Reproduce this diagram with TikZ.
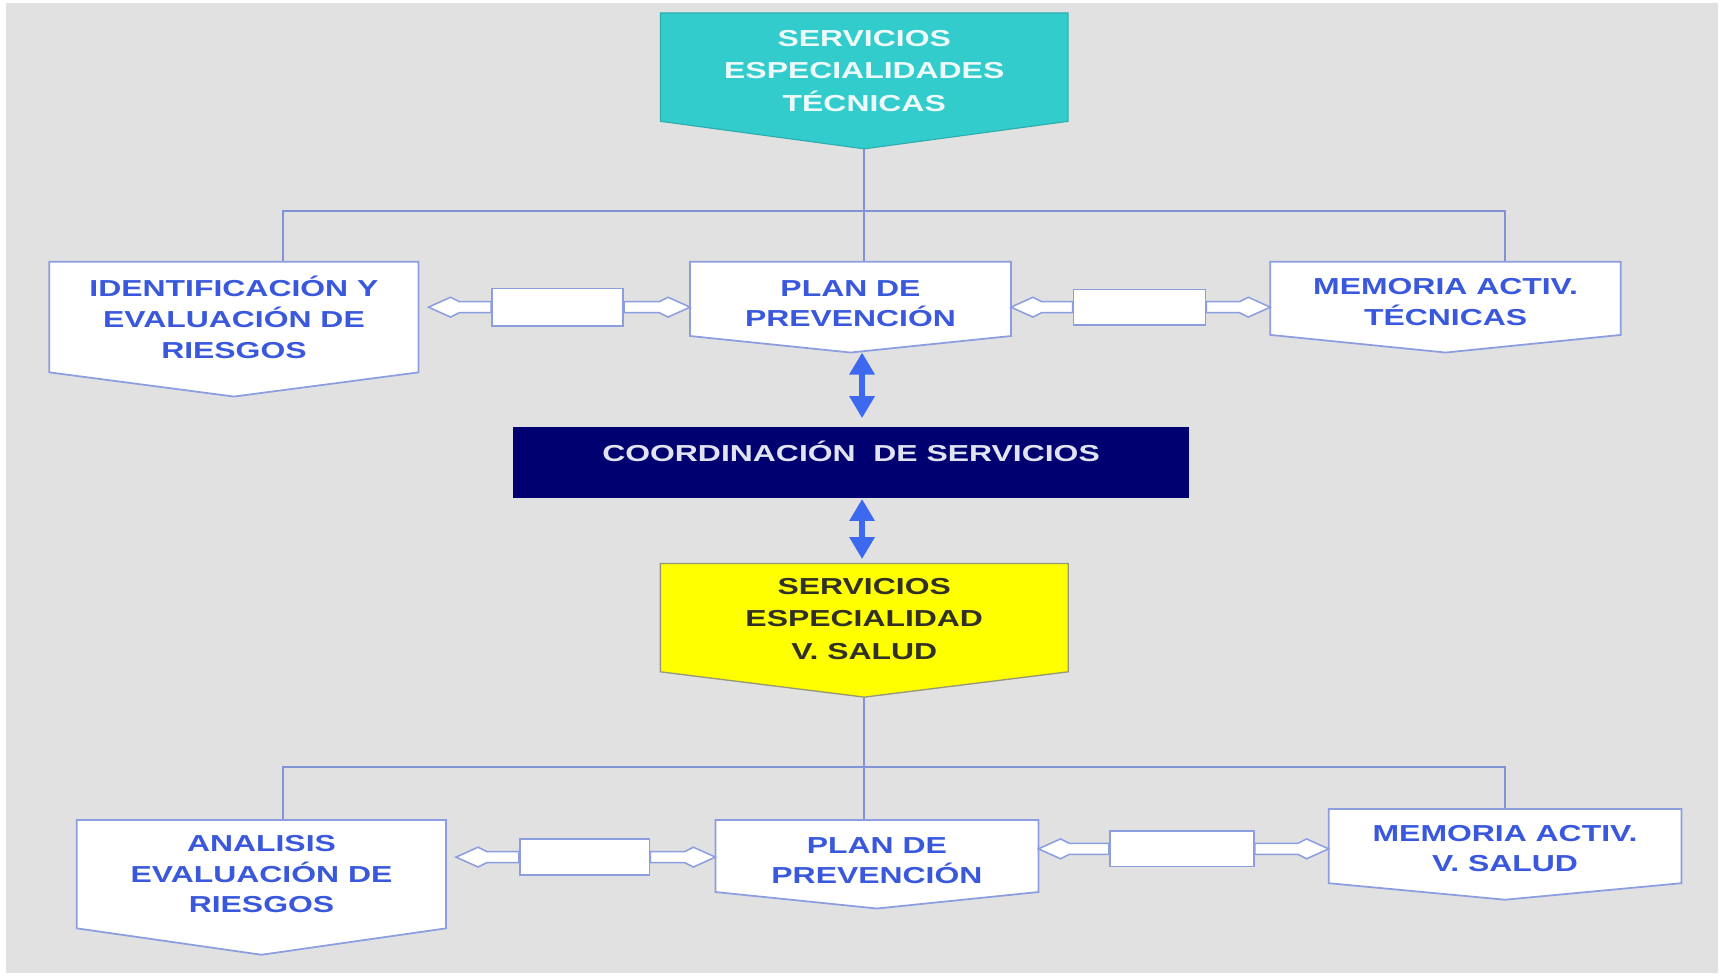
\documentclass[tikz,border=0pt]{standalone}
\usepackage{fontspec}
\setmainfont[FakeStretch=1.38]{Liberation Sans}
\usetikzlibrary{calc,arrows.meta}
\pgfdeclarelayer{back}
\pgfsetlayers{back,main}

\definecolor{fondo}{RGB}{225,225,225}
\definecolor{borde}{RGB}{140,158,224}
\definecolor{linea}{RGB}{130,146,214}
\definecolor{txtazul}{RGB}{58,88,220}
\definecolor{turquesa}{RGB}{51,204,204}
\definecolor{txtblanco}{RGB}{238,250,250}
\definecolor{marino}{RGB}{0,0,112}
\definecolor{txtclaro}{RGB}{225,228,240}
\definecolor{amarillo}{RGB}{255,255,0}
\definecolor{txtoscuro}{RGB}{48,48,36}
\definecolor{gris}{RGB}{150,150,120}
\definecolor{flecha}{RGB}{60,105,240}

\tikzset{
  caja/.style={rectangle, inner sep=0pt, align=center, text=txtazul,
    font=\bfseries\fontsize{21}{28}\selectfont},
  cajaalta/.style={caja, font=\bfseries\fontsize{21}{29.5}\selectfont},
  marco/.style={draw=borde, line width=1.6pt, fill=white},
  arbol/.style={draw=linea, line width=1.8pt},
  hueco/.style={rectangle, draw=borde, line width=1.6pt, fill=white, inner sep=0pt},
  hueca/.style={draw=borde, line width=1.4pt, fill=white},
  doble/.style={color=flecha, line width=5pt,
    {Triangle[width=22pt,length=20pt]}-{Triangle[width=22pt,length=20pt]}},
}

% caja con punta hacia abajo: nodo, profundidad, estilo
\newcommand{\salida}[3]{%
  \filldraw[#3] (#1.north west) -- (#1.north east) -- (#1.south east)
    -- ([yshift=-#2]#1.south) -- (#1.south west) -- cycle;}

% flecha hueca: cola, punta
\newcommand{\flechahueca}[2]{%
  \filldraw[hueca] ($(#1)+(0,-5)$) -- ($(#2)!28pt!(#1)+(0,-5)$)
    -- ($(#2)!20pt!(#1)+(0,-9)$) -- (#2) -- ($(#2)!20pt!(#1)+(0,9)$)
    -- ($(#2)!28pt!(#1)+(0,5)$) -- ($(#1)+(0,5)$) -- cycle;}

\begin{document}
\begin{tikzpicture}[x=1pt,y=-1pt]
\useasboundingbox (0,0) rectangle (1565,885.6);

\node[cajaalta, text=txtblanco, minimum width=370, minimum height=98] (tecnicas) at (785,61) {\rule{0pt}{21pt}SERVICIOS\\ESPECIALIDADES\\TÉCNICAS};

\node[caja, minimum width=335, minimum height=100] (ident) at (212.5,288) {IDENTIFICACIÓN Y\\EVALUACIÓN DE\\RIESGOS};
\node[caja, minimum width=291, minimum height=67] (plan1) at (772.5,271.5) {\rule{0pt}{23pt}PLAN DE\\PREVENCIÓN};
\node[caja, minimum width=318, minimum height=66] (mem1) at (1313,271) {\rule{0pt}{21pt}MEMORIA ACTIV.\\TÉCNICAS};

\node[caja, fill=marino, text=txtclaro, minimum width=614, minimum height=64, text height=10pt, text depth=11pt] (coord) at (773,420) {COORDINACIÓN~~DE SERVICIOS};

\node[cajaalta, text=txtoscuro, minimum width=370, minimum height=98] (salud) at (785,561) {\rule{0pt}{17pt}SERVICIOS\\ESPECIALIDAD\\V. SALUD};

\node[caja, minimum width=335, minimum height=98] (anal) at (237.5,794) {ANALISIS\\EVALUACIÓN DE\\RIESGOS};
\node[caja, minimum width=293, minimum height=65] (plan2) at (796.5,777.5) {\rule{0pt}{23pt}PLAN DE\\PREVENCIÓN};
\node[caja, minimum width=320, minimum height=67] (mem2) at (1367,768.5) {\rule{0pt}{19pt}MEMORIA ACTIV.\\V. SALUD};

\node[hueco, minimum width=119, minimum height=34] (g1) at (506.5,279) {};
\node[hueco, minimum width=120, minimum height=32] (g2) at (1035,279) {};
\node[hueco, minimum width=118, minimum height=33] (g3) at (531,778.5) {};
\node[hueco, minimum width=131, minimum height=32] (g4) at (1073.5,771) {};

\coordinate (bus1) at (785,192);
\coordinate (bus2) at (785,697);

\coordinate (a1) at ($(ident.east |- g1.west)+(9,0)$);
\coordinate (a2) at (plan1.west |- g1.east);
\coordinate (a3) at (plan1.east |- g2.west);
\coordinate (a4) at (mem1.west |- g2.east);
\coordinate (a5) at ($(anal.east |- g3.west)+(9,0)$);
\coordinate (a6) at (plan2.west |- g3.east);
\coordinate (a7) at (plan2.east |- g4.west);
\coordinate (a8) at (mem2.west |- g4.east);

\begin{pgfonlayer}{back}
\fill[white] (0,0) rectangle (1565,885.6);
\fill[fondo] (5,3) rectangle (1560,884);

\draw[arbol] (tecnicas.south) -- (bus1);
\draw[arbol] ([xshift=44.5]ident.north) |- (bus1) -| ([xshift=54]mem1.north);
\draw[arbol] (bus1) -- (bus1 |- plan1.north);
\draw[arbol] (salud.south) -- (bus2);
\draw[arbol] ([xshift=19.5]anal.north) |- (bus2) -| (mem2.north);
\draw[arbol] (bus2) -- (bus2 |- plan2.north);

\salida{tecnicas}{25}{fill=turquesa, draw=turquesa!85!black, line width=1pt}
\salida{ident}{22}{marco}
\salida{plan1}{15}{marco}
\salida{mem1}{16}{marco}
\salida{salud}{23}{fill=amarillo, draw=gris, line width=1.2pt}
\salida{anal}{24}{marco}
\salida{plan2}{15}{marco}
\salida{mem2}{15}{marco}

\flechahueca{g1.west}{a1}
\flechahueca{g1.east}{a2}
\flechahueca{g2.west}{a3}
\flechahueca{g2.east}{a4}
\flechahueca{g3.west}{a5}
\flechahueca{g3.east}{a6}
\flechahueca{g4.west}{a7}
\flechahueca{g4.east}{a8}
\end{pgfonlayer}

\draw[doble] ([xshift=10.5,yshift=-15]plan1.south) -- ([xshift=10,yshift=8]coord.north);
\draw[doble] ([xshift=10,yshift=-1]coord.south) -- ([xshift=-2,yshift=4]salud.north);

\end{tikzpicture}
\end{document}
